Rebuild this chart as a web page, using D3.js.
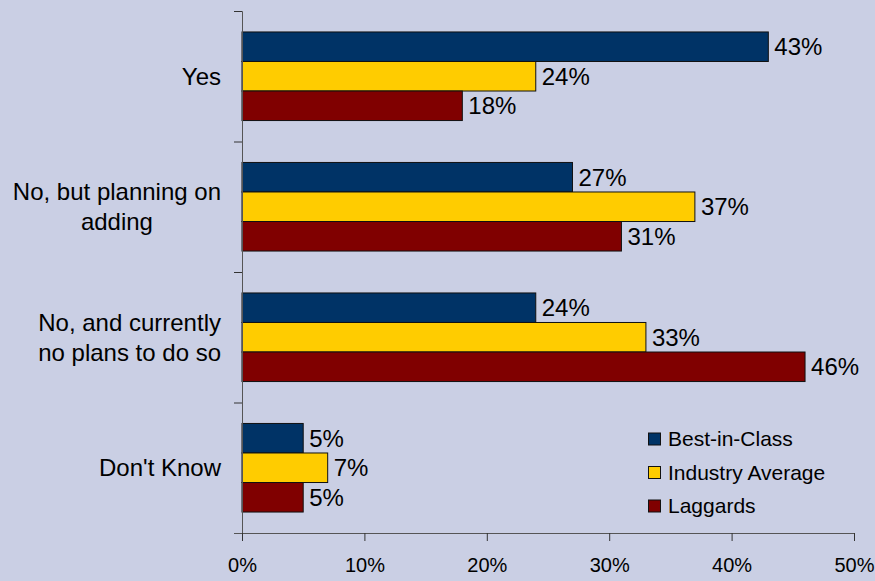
<!DOCTYPE html>
<html>
<head>
<meta charset="utf-8">
<script src="https://cdn.jsdelivr.net/npm/d3@7"></script>
<style>
  body { margin: 0; background: #cacfe4; }
  svg { display: block; font-family: "Liberation Sans", Arial, sans-serif; }
</style>
</head>
<body>
<svg id="chart" width="875" height="581"></svg>
<script>
/** Categories, top to bottom */
var categories = ["Yes", "No, but planning on\nadding", "No, and currently\nno plans to do so", "Don't Know"];

/** Series names and values (fractions) */
var seriesNames = ["Best-in-Class", "Industry Average", "Laggards"];
var bestInClass = [0.43, 0.27, 0.24, 0.05];
var industryAverage = [0.24, 0.37, 0.33, 0.07];
var laggards = [0.18, 0.31, 0.46, 0.05];

var xTicks = [0, 0.1, 0.2, 0.3, 0.4, 0.5];

var colors = ["#003366", "#ffcc00", "#800000"];

/** Plot area edges (note: "top" is reserved on window) */
var plotLeft = 242, plotRight = 854, plotTop = 11, plotBottom = 533;

var svg = d3.select("#chart");

svg.append("rect")
    .attr("width", 875)
    .attr("height", 581)
    .attr("fill", "#cacfe4");

// Scales
var x = d3.scaleLinear().domain([0, 0.5]).range([plotLeft, plotRight]);

var y = d3.scaleBand()
    .domain(categories)
    .range([plotTop, plotBottom]);

var ySub = d3.scaleBand()
    .domain(seriesNames)
    .range([0, y.bandwidth()])
    .paddingOuter(0.71);

// y ticks at band boundaries
var yEdge = d3.scaleLinear().domain([0, categories.length]).range([plotTop, plotBottom]);

var rows = categories.map(function (c, i) {
    return {
        cat: c,
        values: [bestInClass[i], industryAverage[i], laggards[i]]
    };
});

// Bars
var group = svg.selectAll("g.cat")
    .data(rows)
    .enter()
    .append("g")
    .attr("class", "cat")
    .attr("transform", function (d) { return "translate(0," + y(d.cat) + ")"; });

var bars = group.selectAll("g.bar")
    .data(function (d) {
        return d.values.map(function (v, j) { return { name: seriesNames[j], value: v, color: colors[j] }; });
    })
    .enter()
    .append("g")
    .attr("class", "bar");

bars.append("rect")
    .attr("x", x(0))
    .attr("y", function (d) { return ySub(d.name); })
    .attr("width", function (d) { return x(d.value) - x(0); })
    .attr("height", ySub.bandwidth())
    .attr("fill", function (d) { return d.color; })
    .attr("stroke", "#111")
    .attr("stroke-width", 1);

bars.append("text")
    .attr("x", function (d) { return x(d.value) + 6; })
    .attr("y", function (d) { return ySub(d.name) + ySub.bandwidth() / 2; })
    .attr("dy", "0.36em")
    .attr("font-size", 24)
    .attr("fill", "#000")
    .text(function (d) { return d3.format(".0%")(d.value); });

// Axes
var yAxis = d3.axisLeft(yEdge)
    .tickValues(d3.range(categories.length + 1))
    .tickSize(8)
    .tickFormat("");

svg.append("g")
    .attr("transform", "translate(" + plotLeft + ",0)")
    .call(yAxis)
    .call(function (g) {
        g.select(".domain").attr("stroke", "#555");
        g.selectAll(".tick line").attr("stroke", "#333");
    });

var xAxis = d3.axisBottom(x)
    .tickValues(xTicks)
    .tickSize(8)
    .tickSizeOuter(0)
    .tickPadding(17)
    .tickFormat(d3.format(".0%"));

svg.append("g")
    .attr("transform", "translate(0," + plotBottom + ")")
    .call(xAxis)
    .call(function (g) {
        g.select(".domain").attr("stroke", "#555").attr("d", "M" + (plotLeft - 8) + ",0.5H" + plotRight);
        g.selectAll(".tick line").attr("stroke", "#333");
        g.selectAll(".tick text").attr("font-size", 20).attr("fill", "#000");
    });

// Category labels: block right-aligned, lines centered inside the block
var lineH = 30;
var labels = svg.selectAll("g.label")
    .data(categories)
    .enter()
    .append("g")
    .attr("class", "label");

labels.each(function (c) {
    var g = d3.select(this);
    var lines = c.split("\n");
    var texts = lines.map(function (l, i) {
        return g.append("text")
            .attr("font-size", 24)
            .attr("text-anchor", "middle")
            .attr("y", y(c) + y.bandwidth() / 2 + (i - (lines.length - 1) / 2) * lineH)
            .attr("dy", "0.35em")
            .text(l);
    });
    var maxW = d3.max(texts, function (t) { return t.node().getComputedTextLength(); });
    texts.forEach(function (t) { t.attr("x", 221 - maxW / 2); });
});

// Legend
var legend = svg.append("g")
    .attr("transform", "translate(648,439)");

var item = legend.selectAll("g")
    .data(seriesNames)
    .enter()
    .append("g")
    .attr("transform", function (d, i) { return "translate(0," + i * 33.5 + ")"; });

item.append("rect")
    .attr("x", 0.5)
    .attr("y", -6)
    .attr("width", 12)
    .attr("height", 12)
    .attr("fill", function (d, i) { return colors[i]; })
    .attr("stroke", "#111");

item.append("text")
    .attr("x", 20)
    .attr("dy", "0.35em")
    .attr("font-size", 21)
    .text(function (d) { return d; });
</script>
</body>
</html>
